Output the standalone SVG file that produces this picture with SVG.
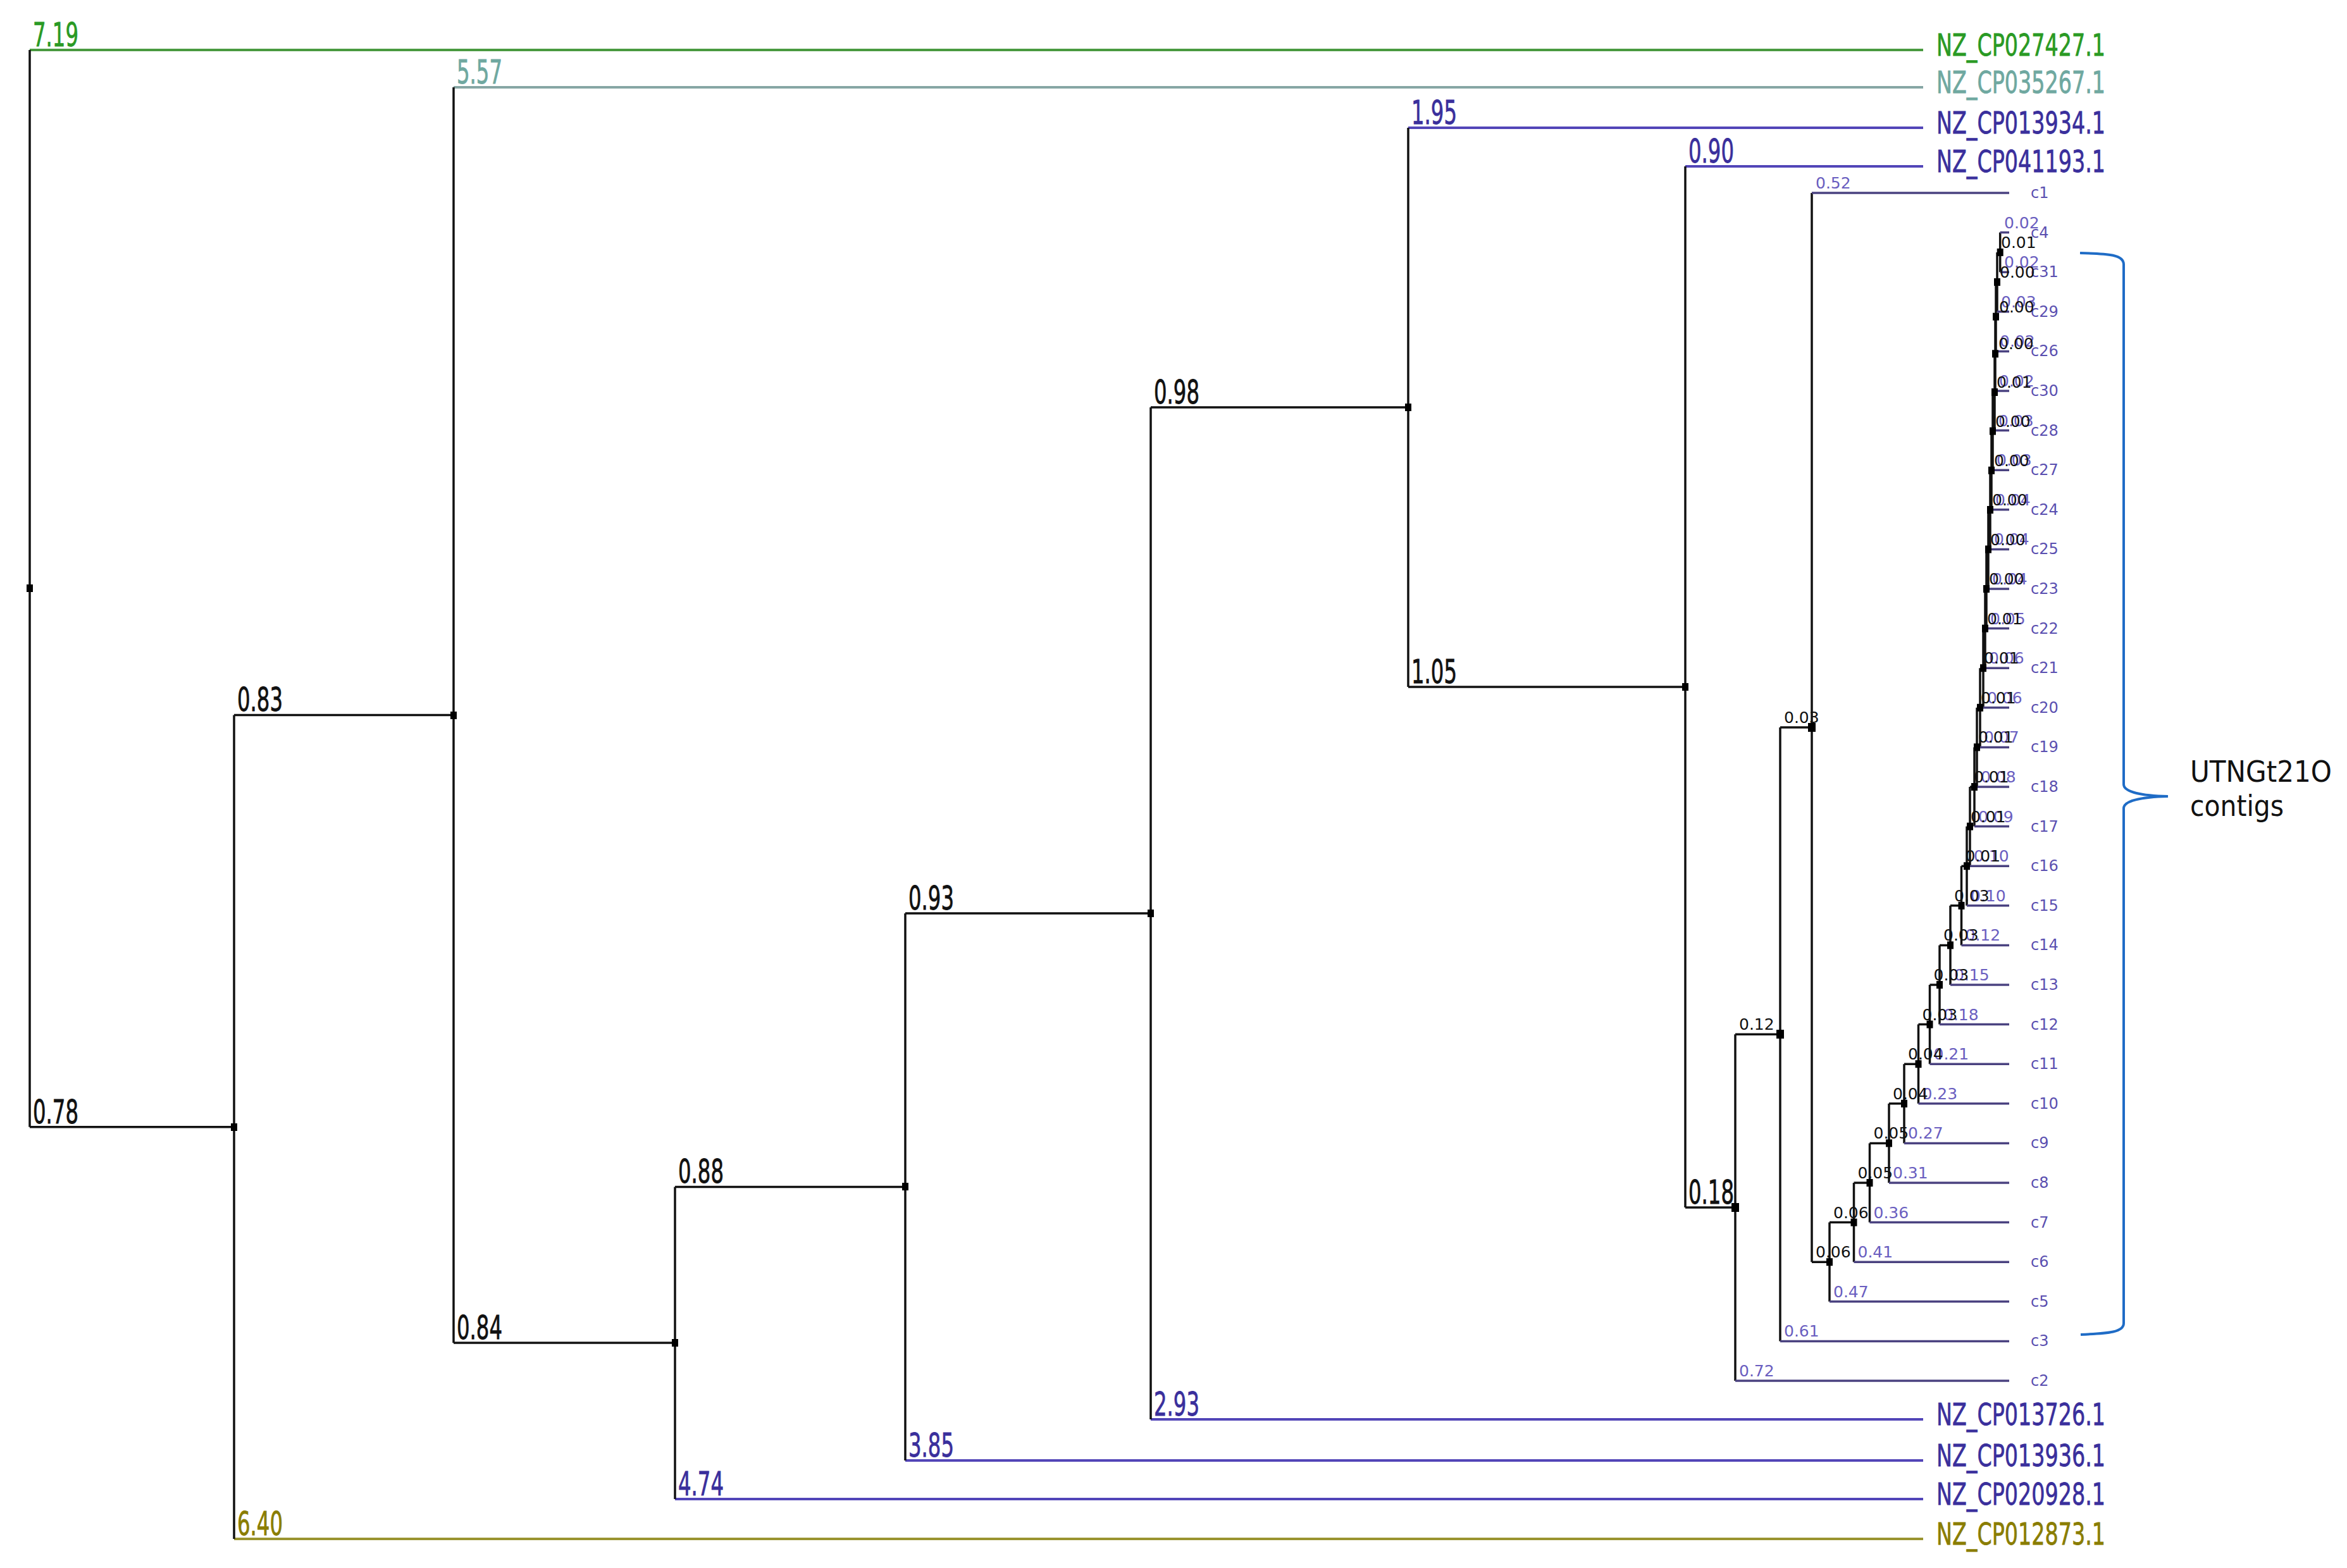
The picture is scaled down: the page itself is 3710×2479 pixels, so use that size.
<svg xmlns="http://www.w3.org/2000/svg" width="3710" height="2479" viewBox="0 0 3710 2479">
<style>
.k{stroke:#111;stroke-width:3.5;fill:none}
.kc{stroke:#111;stroke-width:3.5;fill:none}
.gr{stroke:#4a9a40;stroke-width:4;fill:none}
.te{stroke:#86a6a4;stroke-width:4;fill:none}
.pu{stroke:#5245b8;stroke-width:4;fill:none}
.ol{stroke:#9a9430;stroke-width:4;fill:none}
.lc{stroke:#4a4280;stroke-width:3.5;fill:none}
.br{stroke:#1f6cc6;stroke-width:4;fill:none}
text{font-family:'DejaVu Sans','Liberation Sans',sans-serif}
.big{font-size:52px;stroke-width:0.9px}
.nz{font-size:48px;stroke-width:0.8px}
.sm{font-size:25px}
.cl{font-size:24px;fill:#5a4fb0}
.kt{fill:#111}
.big.kt{stroke:#111}
.gt{fill:#2a9a24;stroke:#2a9a24}
.tt{fill:#6fa8a0;stroke:#6fa8a0}
.pt{fill:#3a2f9c;stroke:#3a2f9c}
.ot{fill:#8a7d00;stroke:#8a7d00}
.ps{fill:#6a5ec0}
.dot{fill:#000}
</style>
<rect width="3710" height="2479" fill="#fff"/>
<g id="connectors">
<path class="gr" d="M47,79 H3040"/>
<path class="te" d="M717,138 H3040"/>
<path class="pu" d="M2226,202 H3040 M2664,263 H3040 M1819,2244 H3040 M1431,2309 H3040 M1067,2370 H3040"/>
<path class="ol" d="M370,2433 H3040"/>
<path class="k" d="M47,79 V1781.8 M47,1781.8 H370 M370,1130.5 V2433 M370,1130.5 H717 M717,138 V2123 M717,2123 H1067 M1067,1876.5 V2370 M1067,1876.5 H1431 M1431,1444 V2309 M1431,1444 H1819 M1819,644 V2244 M1819,644 H2226 M2226,202 V1086 M2226,1086 H2664 M2664,263 V1909 M2664,1909 H2743 M2743,1635.2 V2183 M2743,1635.2 H2814 M2814,1150 V2120.4 M2814,1150 H2864 M2864,305 V1995.2"/>
<path class="kc" d="M3161.7,367.6 V430.2 M3157,398.9 V492.8 M3155,445.9 V555.4 M3154,500.6 V618 M3153,559.3 V680.6 M3150,620 V743.2 M3148,681.6 V805.8 M3146,743.7 V868.4 M3143,806 V931 M3140,868.5 V993.6 M3138,931 V1056.2 M3135,993.6 V1118.8 M3130,1056.2 V1181.4 M3125,1118.8 V1244 M3121,1181.4 V1306.6 M3114,1244 V1369.2 M3109,1306.6 V1431.8 M3100.5,1369.2 V1494.4 M3083,1431.8 V1557 M3066,1494.4 V1619.6 M3050.5,1557 V1682.2 M3032.5,1619.6 V1744.8 M3010,1682.2 V1807.4 M2986,1744.8 V1870 M2955.5,1807.4 V1932.6 M2930.5,1870 V1995.2 M2892,1932.6 V2057.8"/>
<path class="kc" d="M3157,398.9 H3161.7 M3155,445.9 H3157 M3154,500.6 H3155 M3153,559.3 H3154 M3150,620 H3153 M3148,681.6 H3150 M3146,743.7 H3148 M3143,806 H3146 M3140,868.5 H3143 M3138,931 H3140 M3135,993.6 H3138 M3130,1056.2 H3135 M3125,1118.8 H3130 M3121,1181.4 H3125 M3114,1244 H3121 M3109,1306.6 H3114 M3100.5,1369.2 H3109 M3083,1431.8 H3100.5 M3066,1494.4 H3083 M3050.5,1557 H3066 M3032.5,1619.6 H3050.5 M3010,1682.2 H3032.5 M2986,1744.8 H3010 M2955.5,1807.4 H2986 M2930.5,1870 H2955.5 M2892,1932.6 H2930.5 M2864,1995.2 H2892"/>
<path class="lc" d="M2864,305 H3176 M3161.7,367.6 H3176 M3161.7,430.2 H3176 M3157,492.8 H3176 M3155,555.4 H3176 M3154,618 H3176 M3153,680.6 H3176 M3150,743.2 H3176 M3148,805.8 H3176 M3146,868.4 H3176 M3143,931 H3176 M3140,993.6 H3176 M3138,1056.2 H3176 M3135,1118.8 H3176 M3130,1181.4 H3176 M3125,1244 H3176 M3121,1306.6 H3176 M3114,1369.2 H3176 M3109,1431.8 H3176 M3100.5,1494.4 H3176 M3083,1557 H3176 M3066,1619.6 H3176 M3050.5,1682.2 H3176 M3032.5,1744.8 H3176 M3010,1807.4 H3176 M2986,1870 H3176 M2955.5,1932.6 H3176 M2930.5,1995.2 H3176 M2892,2057.8 H3176 M2814,2120.4 H3176 M2743,2183 H3176"/>
<path class="br" d="M3288,400 C3335,401 3357,403 3357,418 L3357,1240 C3357,1252 3385,1258 3427,1259 C3385,1260 3357,1266 3357,1278 L3357,2092 C3357,2106 3335,2108 3289,2110"/>
</g>
<g id="nz-leaves">
<g id="leaf-NZ_CP027427"><text class="nz gt" x="3061" y="88" textLength="267" lengthAdjust="spacingAndGlyphs">NZ_CP027427.1</text><text class="big gt" x="52" y="73" textLength="72" lengthAdjust="spacingAndGlyphs">7.19</text></g>
<g id="leaf-NZ_CP035267"><text class="nz tt" x="3061" y="147" textLength="267" lengthAdjust="spacingAndGlyphs">NZ_CP035267.1</text><text class="big tt" x="722" y="132" textLength="72" lengthAdjust="spacingAndGlyphs">5.57</text></g>
<g id="leaf-NZ_CP013934"><text class="nz pt" x="3061" y="211" textLength="267" lengthAdjust="spacingAndGlyphs">NZ_CP013934.1</text><text class="big pt" x="2231" y="196" textLength="72" lengthAdjust="spacingAndGlyphs">1.95</text></g>
<g id="leaf-NZ_CP041193"><text class="nz pt" x="3061" y="272" textLength="267" lengthAdjust="spacingAndGlyphs">NZ_CP041193.1</text><text class="big pt" x="2669" y="257" textLength="72" lengthAdjust="spacingAndGlyphs">0.90</text></g>
<g id="leaf-NZ_CP013726"><text class="nz pt" x="3061" y="2253" textLength="267" lengthAdjust="spacingAndGlyphs">NZ_CP013726.1</text><text class="big pt" x="1824" y="2238" textLength="72" lengthAdjust="spacingAndGlyphs">2.93</text></g>
<g id="leaf-NZ_CP013936"><text class="nz pt" x="3061" y="2318" textLength="267" lengthAdjust="spacingAndGlyphs">NZ_CP013936.1</text><text class="big pt" x="1436" y="2303" textLength="72" lengthAdjust="spacingAndGlyphs">3.85</text></g>
<g id="leaf-NZ_CP020928"><text class="nz pt" x="3061" y="2379" textLength="267" lengthAdjust="spacingAndGlyphs">NZ_CP020928.1</text><text class="big pt" x="1072" y="2364" textLength="72" lengthAdjust="spacingAndGlyphs">4.74</text></g>
<g id="leaf-NZ_CP012873"><text class="nz ot" x="3061" y="2442" textLength="267" lengthAdjust="spacingAndGlyphs">NZ_CP012873.1</text><text class="big ot" x="375" y="2427" textLength="72" lengthAdjust="spacingAndGlyphs">6.40</text></g>
</g>
<g id="main-nodes">
<g id="node-root"><rect class="dot" x="42" y="924" width="10" height="12"/></g>
<g id="node-A"><rect class="dot" x="365" y="1776" width="10" height="12"/><text class="big kt" x="52" y="1776" textLength="72" lengthAdjust="spacingAndGlyphs">0.78</text></g>
<g id="node-B"><rect class="dot" x="712" y="1125" width="10" height="12"/><text class="big kt" x="375" y="1124" textLength="72" lengthAdjust="spacingAndGlyphs">0.83</text></g>
<g id="node-C"><rect class="dot" x="1062" y="2117" width="10" height="12"/><text class="big kt" x="722" y="2117" textLength="72" lengthAdjust="spacingAndGlyphs">0.84</text></g>
<g id="node-D"><rect class="dot" x="1426" y="1870" width="10" height="12"/><text class="big kt" x="1072" y="1870" textLength="72" lengthAdjust="spacingAndGlyphs">0.88</text></g>
<g id="node-E"><rect class="dot" x="1814" y="1438" width="10" height="12"/><text class="big kt" x="1436" y="1438" textLength="72" lengthAdjust="spacingAndGlyphs">0.93</text></g>
<g id="node-F"><rect class="dot" x="2221" y="638" width="10" height="12"/><text class="big kt" x="1824" y="638" textLength="72" lengthAdjust="spacingAndGlyphs">0.98</text></g>
<g id="node-G"><rect class="dot" x="2659" y="1080" width="10" height="12"/><text class="big kt" x="2231" y="1080" textLength="72" lengthAdjust="spacingAndGlyphs">1.05</text></g>
<g id="node-H"><rect class="dot" x="2737" y="1902" width="12" height="14"/><text class="big kt" x="2669" y="1903" textLength="72" lengthAdjust="spacingAndGlyphs">0.18</text></g>
<g id="node-I"><rect class="dot" x="2808" y="1628" width="12" height="14"/><text class="sm kt" x="2749" y="1628">0.12</text></g>
<g id="node-J"><rect class="dot" x="2858" y="1143" width="12" height="14"/><text class="sm kt" x="2820" y="1143">0.03</text></g>
</g>
<g id="contig-leaves">
<g id="leaf-c1"><text class="sm ps" x="2870" y="298">0.52</text><text class="cl" x="3210" y="313">c1</text></g>
<g id="leaf-c4"><text class="sm ps" x="3168" y="360.6">0.02</text><text class="cl" x="3210" y="375.6">c4</text></g>
<g id="leaf-c31"><text class="sm ps" x="3168" y="423.2">0.02</text><text class="cl" x="3210" y="438.2">c31</text></g>
<g id="leaf-c29"><text class="sm ps" x="3163" y="485.8">0.03</text><text class="cl" x="3210" y="500.8">c29</text></g>
<g id="leaf-c26"><text class="sm ps" x="3161" y="548.4">0.02</text><text class="cl" x="3210" y="563.4">c26</text></g>
<g id="leaf-c30"><text class="sm ps" x="3160" y="611">0.02</text><text class="cl" x="3210" y="626">c30</text></g>
<g id="leaf-c28"><text class="sm ps" x="3159" y="673.6">0.03</text><text class="cl" x="3210" y="688.6">c28</text></g>
<g id="leaf-c27"><text class="sm ps" x="3156" y="736.2">0.03</text><text class="cl" x="3210" y="751.2">c27</text></g>
<g id="leaf-c24"><text class="sm ps" x="3154" y="798.8">0.04</text><text class="cl" x="3210" y="813.8">c24</text></g>
<g id="leaf-c25"><text class="sm ps" x="3152" y="861.4">0.04</text><text class="cl" x="3210" y="876.4">c25</text></g>
<g id="leaf-c23"><text class="sm ps" x="3149" y="924">0.04</text><text class="cl" x="3210" y="939">c23</text></g>
<g id="leaf-c22"><text class="sm ps" x="3146" y="986.6">0.05</text><text class="cl" x="3210" y="1001.6">c22</text></g>
<g id="leaf-c21"><text class="sm ps" x="3144" y="1049.2">0.06</text><text class="cl" x="3210" y="1064.2">c21</text></g>
<g id="leaf-c20"><text class="sm ps" x="3141" y="1111.8">0.06</text><text class="cl" x="3210" y="1126.8">c20</text></g>
<g id="leaf-c19"><text class="sm ps" x="3136" y="1174.4">0.07</text><text class="cl" x="3210" y="1189.4">c19</text></g>
<g id="leaf-c18"><text class="sm ps" x="3131" y="1237">0.08</text><text class="cl" x="3210" y="1252">c18</text></g>
<g id="leaf-c17"><text class="sm ps" x="3127" y="1299.6">0.09</text><text class="cl" x="3210" y="1314.6">c17</text></g>
<g id="leaf-c16"><text class="sm ps" x="3120" y="1362.2">0.10</text><text class="cl" x="3210" y="1377.2">c16</text></g>
<g id="leaf-c15"><text class="sm ps" x="3115" y="1424.8">0.10</text><text class="cl" x="3210" y="1439.8">c15</text></g>
<g id="leaf-c14"><text class="sm ps" x="3106.5" y="1487.4">0.12</text><text class="cl" x="3210" y="1502.4">c14</text></g>
<g id="leaf-c13"><text class="sm ps" x="3089" y="1550">0.15</text><text class="cl" x="3210" y="1565">c13</text></g>
<g id="leaf-c12"><text class="sm ps" x="3072" y="1612.6">0.18</text><text class="cl" x="3210" y="1627.6">c12</text></g>
<g id="leaf-c11"><text class="sm ps" x="3056.5" y="1675.2">0.21</text><text class="cl" x="3210" y="1690.2">c11</text></g>
<g id="leaf-c10"><text class="sm ps" x="3038.5" y="1737.8">0.23</text><text class="cl" x="3210" y="1752.8">c10</text></g>
<g id="leaf-c9"><text class="sm ps" x="3016" y="1800.4">0.27</text><text class="cl" x="3210" y="1815.4">c9</text></g>
<g id="leaf-c8"><text class="sm ps" x="2992" y="1863">0.31</text><text class="cl" x="3210" y="1878">c8</text></g>
<g id="leaf-c7"><text class="sm ps" x="2961.5" y="1925.6">0.36</text><text class="cl" x="3210" y="1940.6">c7</text></g>
<g id="leaf-c6"><text class="sm ps" x="2936.5" y="1988.2">0.41</text><text class="cl" x="3210" y="2003.2">c6</text></g>
<g id="leaf-c5"><text class="sm ps" x="2898" y="2050.8">0.47</text><text class="cl" x="3210" y="2065.8">c5</text></g>
<g id="leaf-c3"><text class="sm ps" x="2820" y="2113.4">0.61</text><text class="cl" x="3210" y="2128.4">c3</text></g>
<g id="leaf-c2"><text class="sm ps" x="2749" y="2176">0.72</text><text class="cl" x="3210" y="2191">c2</text></g>
</g>
<g id="contig-nodes">
<g id="n1"><rect class="dot" x="3156.7" y="392.9" width="10" height="12"/><text class="sm kt" x="3163" y="391.9">0.01</text></g>
<g id="n2"><rect class="dot" x="3152" y="439.9" width="10" height="12"/><text class="sm kt" x="3161" y="438.9">0.00</text></g>
<g id="n3"><rect class="dot" x="3150" y="494.6" width="10" height="12"/><text class="sm kt" x="3160" y="493.6">0.00</text></g>
<g id="n4"><rect class="dot" x="3149" y="553.3" width="10" height="12"/><text class="sm kt" x="3159" y="552.3">0.00</text></g>
<g id="n5"><rect class="dot" x="3148" y="614" width="10" height="12"/><text class="sm kt" x="3156" y="613">0.01</text></g>
<g id="n6"><rect class="dot" x="3145" y="675.6" width="10" height="12"/><text class="sm kt" x="3154" y="674.6">0.00</text></g>
<g id="n7"><rect class="dot" x="3143" y="737.7" width="10" height="12"/><text class="sm kt" x="3152" y="736.7">0.00</text></g>
<g id="n8"><rect class="dot" x="3141" y="800" width="10" height="12"/><text class="sm kt" x="3149" y="799">0.00</text></g>
<g id="n9"><rect class="dot" x="3138" y="862.5" width="10" height="12"/><text class="sm kt" x="3146" y="861.5">0.00</text></g>
<g id="n10"><rect class="dot" x="3135" y="925" width="10" height="12"/><text class="sm kt" x="3144" y="924">0.00</text></g>
<g id="n11"><rect class="dot" x="3133" y="987.6" width="10" height="12"/><text class="sm kt" x="3141" y="986.6">0.01</text></g>
<g id="n12"><rect class="dot" x="3130" y="1050.2" width="10" height="12"/><text class="sm kt" x="3136" y="1049.2">0.01</text></g>
<g id="n13"><rect class="dot" x="3125" y="1112.8" width="10" height="12"/><text class="sm kt" x="3131" y="1111.8">0.01</text></g>
<g id="n14"><rect class="dot" x="3120" y="1175.4" width="10" height="12"/><text class="sm kt" x="3127" y="1174.4">0.01</text></g>
<g id="n15"><rect class="dot" x="3116" y="1238" width="10" height="12"/><text class="sm kt" x="3120" y="1237">0.01</text></g>
<g id="n16"><rect class="dot" x="3109" y="1300.6" width="10" height="12"/><text class="sm kt" x="3115" y="1299.6">0.01</text></g>
<g id="n17"><rect class="dot" x="3104" y="1363.2" width="10" height="12"/><text class="sm kt" x="3106.5" y="1362.2">0.01</text></g>
<g id="n18"><rect class="dot" x="3095.5" y="1425.8" width="10" height="12"/><text class="sm kt" x="3089" y="1424.8">0.03</text></g>
<g id="n19"><rect class="dot" x="3078" y="1488.4" width="10" height="12"/><text class="sm kt" x="3072" y="1487.4">0.03</text></g>
<g id="n20"><rect class="dot" x="3061" y="1551" width="10" height="12"/><text class="sm kt" x="3056.5" y="1550">0.03</text></g>
<g id="n21"><rect class="dot" x="3045.5" y="1613.6" width="10" height="12"/><text class="sm kt" x="3038.5" y="1612.6">0.03</text></g>
<g id="n22"><rect class="dot" x="3027.5" y="1676.2" width="10" height="12"/><text class="sm kt" x="3016" y="1675.2">0.04</text></g>
<g id="n23"><rect class="dot" x="3005" y="1738.8" width="10" height="12"/><text class="sm kt" x="2992" y="1737.8">0.04</text></g>
<g id="n24"><rect class="dot" x="2981" y="1801.4" width="10" height="12"/><text class="sm kt" x="2961.5" y="1800.4">0.05</text></g>
<g id="n25"><rect class="dot" x="2950.5" y="1864" width="10" height="12"/><text class="sm kt" x="2936.5" y="1863">0.05</text></g>
<g id="n26"><rect class="dot" x="2925.5" y="1926.6" width="10" height="12"/><text class="sm kt" x="2898" y="1925.6">0.06</text></g>
<g id="n27"><rect class="dot" x="2887" y="1989.2" width="10" height="12"/><text class="sm kt" x="2870" y="1988.2">0.06</text></g>
</g>
<g id="annotation">
<text x="3462" y="1236" font-family="'Noto Sans','Liberation Sans',sans-serif" font-size="46" fill="#111" textLength="224" lengthAdjust="spacingAndGlyphs">UTNGt21O</text>
<text x="3462" y="1290" font-family="'Noto Sans','Liberation Sans',sans-serif" font-size="46" fill="#111" textLength="148" lengthAdjust="spacingAndGlyphs">contigs</text>
</g>
</svg>
